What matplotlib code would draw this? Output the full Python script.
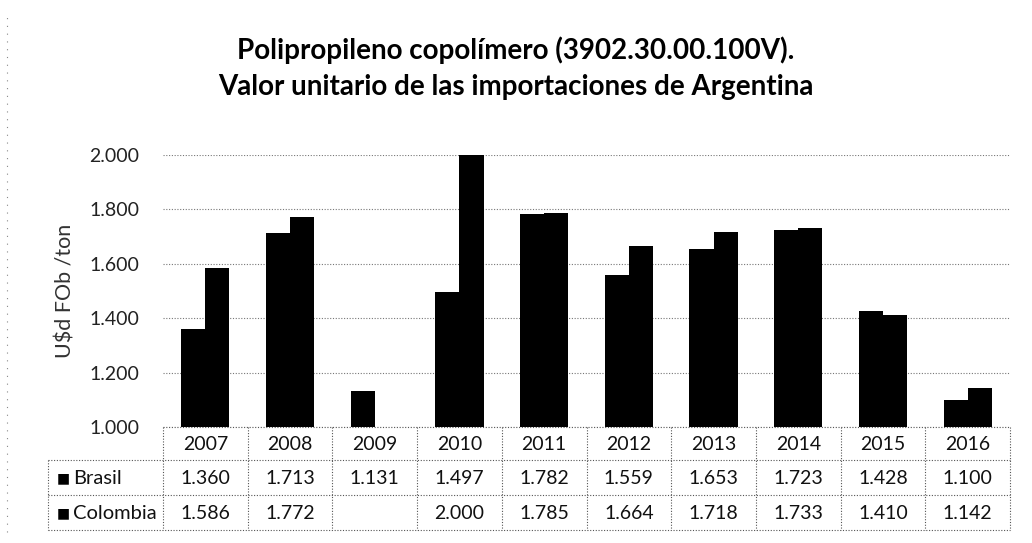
import numpy as np
import matplotlib
matplotlib.use('Agg')
import matplotlib.pyplot as plt
from matplotlib.ticker import FuncFormatter

plt.rcParams['font.family'] = ['Lato', 'DejaVu Sans']

years = ['2007', '2008', '2009', '2010', '2011', '2012', '2013', '2014', '2015', '2016']
brasil = [1360, 1713, 1131, 1497, 1782, 1559, 1653, 1723, 1428, 1100]
colombia = [1586, 1772, np.nan, 2000, 1785, 1664, 1718, 1733, 1410, 1142]
series_names = ['Brasil', 'Colombia']
title = 'Polipropileno copolímero (3902.30.00.100V).\nValor unitario de las importaciones de Argentina'
ylabel = 'U$d FOb /ton'


def fmt_num(v):
    if np.isnan(v):
        return ''
    return '{:,.0f}'.format(v).replace(',', '.')


W, H = 1032, 543
fig = plt.figure(figsize=(W / 100, H / 100), dpi=100)

# axes box in pixels
x0, x1 = 163, 1010
y_top, y_bot = 155, 427
ax = fig.add_axes([x0 / W, 1 - y_bot / H, (x1 - x0) / W, (y_bot - y_top) / H])

n = len(years)
x = np.arange(n)
bw = 0.285
ax.bar(x - bw / 2, brasil, bw, color='black')
ax.bar(x + bw / 2, colombia, bw, color='black')

ax.set_xlim(-0.5, n - 0.5)
ax.set_ylim(1000, 2000)
ax.set_yticks(np.arange(1000, 2001, 200))
ax.yaxis.set_major_formatter(FuncFormatter(lambda v, p: fmt_num(v)))
ax.tick_params(axis='y', length=0, labelsize=14, pad=17, colors='#222222')
ax.set_xticks([])
for s in ax.spines.values():
    s.set_visible(False)
ax.set_axisbelow(True)
ax.grid(axis='y', linestyle=(0, (1, 1.5)), color='#777777', linewidth=0.8)
ax.set_ylabel(ylabel, fontsize=15.5, color='#333333', labelpad=10)

fig.text(0.5, 1 - 68 / H, title, ha='center', va='center', fontsize=20,
         fontweight='bold', linespacing=1.5)

# data table drawn below the axes (pixel rows)
lab_x = 48
rows_y = [427, 460, 495, 530]
cw = (x1 - x0) / n
line_kw = dict(color='#555555', linewidth=0.8, linestyle=(0, (1, 1.5)))


def px(xp, yp):
    return xp / W, 1 - yp / H


def hline(xa, xb, yp):
    fig.add_artist(plt.Line2D([xa / W, xb / W], [1 - yp / H, 1 - yp / H], **line_kw))


def vline(xp, ya, yb):
    fig.add_artist(plt.Line2D([xp / W, xp / W], [1 - ya / H, 1 - yb / H], **line_kw))


hline(x0, x1, rows_y[0])
for yp in rows_y[1:]:
    hline(lab_x, x1, yp)
for i in range(n + 1):
    vline(x0 + i * cw, rows_y[0], rows_y[3])
vline(lab_x, rows_y[1], rows_y[3])

for i, yr in enumerate(years):
    cx = x0 + (i + 0.5) * cw
    fig.text(*px(cx, (rows_y[0] + rows_y[1]) / 2 + 1), yr, ha='center', va='center',
             fontsize=14, color='#111111')
    for r, vals in enumerate([brasil, colombia]):
        cy = (rows_y[r + 1] + rows_y[r + 2]) / 2 + 1
        fig.text(*px(cx, cy), fmt_num(vals[i]), ha='center', va='center',
                 fontsize=14, color='#111111')

for r, name in enumerate(series_names):
    cy = (rows_y[r + 1] + rows_y[r + 2]) / 2 + 1
    fig.text(*px(lab_x + 9, cy), '■', ha='left', va='center', fontsize=10,
             family=['DejaVu Sans'], color='black')
    fig.text(*px(lab_x + 25, cy), name, ha='left', va='center', fontsize=14.5,
             color='#111111')

# scanned page edge on the far left
fig.add_artist(plt.Line2D([7 / W, 7 / W], [0.02, 0.98], color='#888888',
                          linewidth=0.8, linestyle=(0, (1, 6))))

fig.savefig('out.png', dpi=100, facecolor='white')
